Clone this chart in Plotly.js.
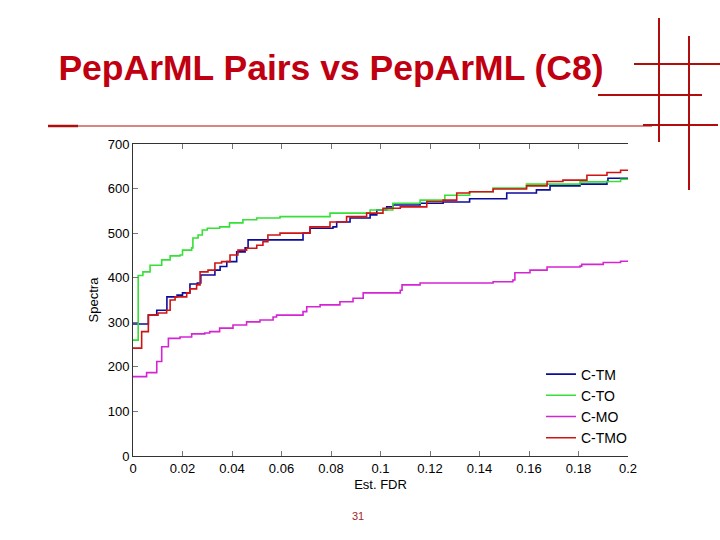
<!DOCTYPE html>
<html>
<head>
<meta charset="utf-8">
<script src="https://cdn.plot.ly/plotly-3.0.1.min.js"></script>
<style>html,body{margin:0;padding:0;background:#fff;}#chart{width:720px;height:540px;}</style>
</head>
<body>
<div id="chart"></div>
<script>
// ---- data (step points: value holds from x onward) ----
const seriesNames = ['C-TM', 'C-TO', 'C-MO', 'C-TMO'];

const xTM = [0, 0.0062, 0.0096, 0.0137, 0.0178, 0.020, 0.023, 0.026, 0.0274, 0.0331, 0.0352, 0.0379, 0.0419, 0.0453, 0.0465, 0.0687, 0.0715, 0.0808, 0.0823, 0.0877, 0.0958, 0.0985, 0.1025, 0.105, 0.116, 0.1253, 0.136, 0.151, 0.163, 0.1685, 0.1806, 0.1915, 0.1919, 0.2];
const yTM = [296, 316, 327, 357, 361, 366, 386, 388, 406, 417, 425, 436, 458, 467, 485, 500, 511, 514, 525, 534, 541, 552, 559, 563, 567, 570, 577, 590, 597, 606, 610, 616, 623, 623];

const xTO = [0, 0.0021, 0.004, 0.0069, 0.0116, 0.015, 0.019, 0.020, 0.0237, 0.0242, 0.0263, 0.028, 0.030, 0.035, 0.039, 0.0444, 0.050, 0.0594, 0.0796, 0.0958, 0.105, 0.116, 0.126, 0.136, 0.1455, 0.159, 0.1806, 0.1915, 0.197, 0.2];
const yTO = [260, 405, 413, 428, 440, 449, 451, 462, 467, 489, 496, 507, 511, 514, 523, 530, 534, 537, 545, 552, 567, 574, 585, 593, 601, 610, 615, 616, 621, 621];

const xMO = [0, 0.0055, 0.0096, 0.0116, 0.0143, 0.019, 0.0237, 0.029, 0.031, 0.035, 0.0404, 0.0459, 0.0513, 0.0566, 0.058, 0.0687, 0.0702, 0.0756, 0.0836, 0.0889, 0.093, 0.108, 0.1087, 0.116, 0.1455, 0.1535, 0.1543, 0.1604, 0.1673, 0.1806, 0.1813, 0.19, 0.197, 0.2];
const yMO = [178, 187, 212, 245, 264, 267, 274, 276, 279, 287, 294, 301, 305, 312, 316, 324, 335, 339, 346, 354, 366, 372, 384, 388, 391, 395, 411, 417, 424, 426, 430, 434, 437, 437];

const xTMO = [0, 0.0035, 0.0062, 0.0101, 0.0136, 0.015, 0.017, 0.0217, 0.023, 0.0257, 0.0271, 0.0303, 0.0331, 0.0358, 0.0392, 0.0424, 0.0459, 0.050, 0.0525, 0.0545, 0.0594, 0.0715, 0.0796, 0.0863, 0.0944, 0.101, 0.108, 0.1187, 0.1253, 0.1308, 0.136, 0.1455, 0.159, 0.1673, 0.1737, 0.1834, 0.1915, 0.197, 0.2];
const yTMO = [242, 279, 316, 321, 327, 350, 357, 366, 375, 384, 413, 417, 433, 436, 451, 462, 466, 473, 481, 496, 500, 514, 525, 537, 545, 556, 559, 571, 574, 590, 593, 599, 606, 616, 619, 630, 636, 641, 641];

const xTickVals = [0, 0.02, 0.04, 0.06, 0.08, 0.1, 0.12, 0.14, 0.16, 0.18, 0.2];
const xTickText = ['0', '0.02', '0.04', '0.06', '0.08', '0.1', '0.12', '0.14', '0.16', '0.18', '0.2'];
const yTickVals = [0, 100, 200, 300, 400, 500, 600, 700];
const yTickText = ['0', '100', '200', '300', '400', '500', '600', '700'];

const slideTitle = '<b>PepArML Pairs vs PepArML (C8)</b>';
const xTitle = 'Est. FDR';
const yTitle = 'Spectra';
const pageNumber = '31';

// ---- styles ----
const colors = ['#0c0c9c', '#36e036', '#d425d4', '#d01414'];
const xs = [xTM, xTO, xMO, xTMO];
const ys = [yTM, yTO, yMO, yTMO];

const traces = seriesNames.map((n, i) => ({
  type: 'scatter', mode: 'lines', name: n,
  x: xs[i], y: ys[i],
  line: {shape: 'hv', color: colors[i], width: 1.6},
  xaxis: 'x', yaxis: 'y'
}));

// pixel -> paper helpers for slide decorations
const L = 133, R = 628, T = 144, B = 456;
const PX = px => (px - L) / (R - L);
const PY = py => (B - py) / (B - T);
const deco = '#b00d0d';
function seg(x0, y0, x1, y1, w) {
  return {type: 'line', xref: 'paper', yref: 'paper', x0: PX(x0), y0: PY(y0), x1: PX(x1), y1: PY(y1),
          line: {color: deco, width: w}, layer: 'above'};
}

const layout = {
  width: 720, height: 540,
  margin: {l: L, r: 720 - R, t: T, b: 540 - B, pad: 0},
  paper_bgcolor: '#ffffff', plot_bgcolor: '#ffffff',
  font: {family: 'Liberation Sans, Arial, sans-serif', size: 13, color: '#000'},
  showlegend: true,
  title: {
    text: slideTitle, xref: 'container', yref: 'container',
    x: 331 / 720, xanchor: 'center', y: 1 - 68 / 540, yanchor: 'middle',
    font: {family: 'Liberation Sans, Arial, sans-serif', size: 35.5, color: '#c00010'}
  },
  xaxis: {
    range: [0, 0.2], tickmode: 'array', tickvals: xTickVals, ticktext: xTickText,
    showgrid: false, zeroline: false, showline: true, linecolor: '#333', linewidth: 1,
    mirror: 'ticks', ticks: 'inside', ticklen: 5, tickcolor: '#777',
    tickfont: {size: 13},
    title: {text: xTitle, standoff: 5, font: {size: 13}}
  },
  yaxis: {
    range: [0, 700], tickmode: 'array', tickvals: yTickVals, ticktext: yTickText,
    showgrid: false, zeroline: false, showline: true, linecolor: '#333', linewidth: 1,
    ticks: 'inside', ticklen: 5, tickcolor: '#777',
    tickfont: {size: 13},
    title: {text: yTitle, standoff: 6, font: {size: 13}}
  },
  yaxis2: {
    overlaying: 'y', side: 'right', anchor: 'x',
    range: [0, 700], tickmode: 'array', tickvals: yTickVals,
    showticklabels: false, showgrid: false, zeroline: false, showline: false,
    ticks: 'inside', ticklen: 5, tickcolor: '#777'
  },
  legend: {
    x: PX(541), y: PY(358.5), xanchor: 'left', yanchor: 'top',
    bgcolor: 'rgba(255,255,255,0)', borderwidth: 0,
    font: {size: 14, color: '#000'}
  },
  annotations: [{
    text: pageNumber, xref: 'paper', yref: 'paper', x: PX(358), y: PY(516),
    xanchor: 'center', yanchor: 'middle', showarrow: false,
    font: {size: 11, color: '#a02828'}
  }],
  shapes: [
    seg(48, 126, 652, 126, 1.2),
    seg(48, 126, 78, 126, 2.5),
    seg(643, 125, 718, 125, 2),
    seg(659, 18, 659, 142, 2),
    seg(689, 36, 689, 190, 2),
    seg(634, 64, 720, 64, 2),
    seg(598, 95, 702, 95, 2)
  ]
};

Plotly.newPlot('chart', traces, layout, {displayModeBar: false, staticPlot: true});
</script>
</body>
</html>
